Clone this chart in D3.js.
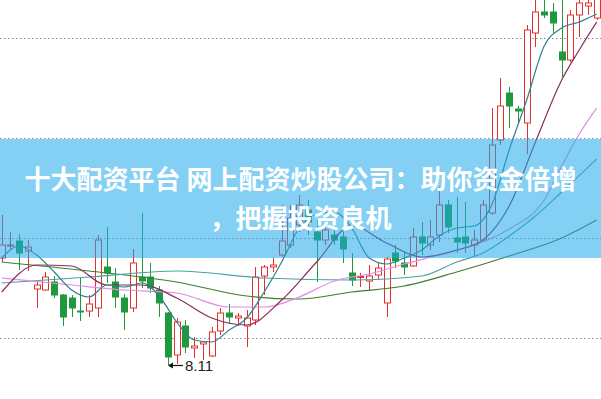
<!DOCTYPE html>
<html>
<head>
<meta charset="utf-8">
<script src="https://cdn.jsdelivr.net/npm/d3@7/dist/d3.min.js"></script>
<style>
  body{margin:0;background:#fff;}
  svg{display:block;}
</style>
</head>
<body>
<svg id="chart" width="601" height="399"></svg>
<script>
// daily candles
const opens  = [9.18,9.30,9.35,9.25,8.87,8.86,8.94,8.81,8.78,8.65,8.65,8.68,9.09,8.94,8.78,8.68,8.99,8.99,8.86,8.63,8.21,8.50,8.28,8.32,8.20,8.45,8.63,8.58,8.50,8.56,9.00,9.09,9.21,9.31,9.51,9.66,9.44,9.36,9.41,9.39,9.03,8.985,8.95,9.01,8.73,9.23,9.13,9.10,9.39,9.31,9.41,9.71,9.38,9.39,9.31,9.36,9.63,10.36,10.83,10.67,10.53,11.43,11.64,11.64,11.24,11.16,11.61,11.70,11.58];
const highs  = [9.61,9.44,9.42,9.36,8.94,9.04,9.00,8.82,8.81,8.99,8.81,9.41,9.49,9.08,8.82,9.27,9.63,9.13,8.90,8.64,8.58,8.56,8.39,8.35,8.49,8.68,8.72,8.63,8.66,9.09,9.11,9.18,9.71,9.71,9.81,9.76,9.56,9.51,9.48,9.46,9.23,9.03,9.11,9.14,9.19,9.31,9.24,9.48,9.54,9.56,9.89,9.76,9.79,9.74,9.46,9.76,10.68,10.98,10.89,10.70,11.51,11.81,11.78,11.73,11.86,11.66,11.79,11.79,11.84];
const lows   = [9.14,9.26,9.06,9.05,8.68,8.85,8.78,8.50,8.59,8.55,8.59,8.59,8.93,8.68,8.46,8.64,8.88,8.83,8.59,8.11,8.12,8.23,8.18,8.16,8.19,8.41,8.52,8.50,8.29,8.51,8.81,9.04,9.19,9.28,9.44,9.41,8.94,9.31,9.31,9.13,8.90,8.89,8.86,8.96,8.59,9.08,9.01,9.09,9.21,9.26,9.34,9.43,9.23,9.23,9.19,9.35,9.61,10.31,10.48,10.53,10.22,11.29,11.58,11.43,10.99,11.14,11.39,11.61,11.56];
const closes = [9.31,9.31,9.23,9.29,8.91,8.99,8.81,8.59,8.68,8.64,8.72,9.36,9.03,8.79,8.64,9.13,8.95,8.88,8.73,8.19,8.54,8.29,8.30,8.34,8.44,8.63,8.59,8.60,8.58,8.99,9.09,9.11,9.35,9.58,9.71,9.54,9.36,9.46,9.36,9.27,8.96,8.995,9.00,9.08,9.17,9.15,9.09,9.39,9.33,9.39,9.71,9.49,9.34,9.33,9.36,9.71,10.31,10.70,10.70,10.65,11.46,11.64,11.61,11.53,11.16,11.61,11.73,11.73,11.81];

// moving average lines: [candle index, price]
const ma5  = [[0,9.18],[2,9.30],[4,9.21],[6,9.04],[8,8.86],[10,8.79],[12,8.91],[14,8.89],[16,8.93],[18,8.80],[20,8.54],[22,8.36],[24,8.34],[26,8.46],[28,8.58],[30,8.84],[32,9.14],[34,9.48],[36,9.62],[38,9.64],[40,9.48],[42,9.18],[44,9.12],[46,9.18],[48,9.26],[50,9.40],[52,9.48],[54,9.50],[56,9.71],[58,10.26],[60,10.76],[62,11.30],[64,11.48],[66,11.54],[68,11.62]];
const ma10 = [[0,8.84],[4,9.11],[8,9.10],[12,8.91],[16,8.91],[20,8.78],[24,8.58],[28,8.51],[32,8.76],[36,9.14],[40,9.50],[44,9.33],[48,9.19],[52,9.26],[55,9.36],[58,9.70],[61,10.34],[64,10.96],[66,11.26],[68,11.54]];
const ma20 = [[0,8.98],[8,8.91],[14,8.86],[20,8.83],[26,8.69],[30,8.69],[34,8.79],[38,8.95],[42,9.02],[46,9.12],[50,9.21],[53,9.28],[58,9.47],[62,9.76],[64,10.10],[66,10.42],[68,10.68]];
const ma30 = [[0,8.93],[10,8.99],[20,9.05],[30,8.98],[40,8.96],[48,9.00],[52,9.14],[55,9.23],[58,9.40],[61,9.60],[64,9.84],[68,10.17]];
const ma60 = [[0,9.14],[10,9.05],[20,8.94],[28,8.80],[34,8.77],[40,8.84],[46,8.90],[52,9.04],[58,9.20],[64,9.38],[68,9.56]];

const gridPrices = [11.38, 10.38, 9.38, 8.38];
const lowIndex = 19, lowLabel = '8.11';
const titleLines = ['十大配资平台 网上配资炒股公司：助你资金倍增', '，把握投资良机'];

const W = 601, H = 399;
const svg = d3.select('#chart');
const x = d3.scaleLinear().domain([0, 68]).range([1.7, 596.7]);
const y = d3.scaleLinear().domain([7.77, 11.76]).range([H, 0]);
const bodyW = 6;

const candles = closes.map((c,i)=>({i, o:opens[i], h:highs[i], l:lows[i], c, up:c>=opens[i]}));
const RED = '#e4302c', GREEN = '#1e9a3c';

// dotted grid
svg.append('g').selectAll('line').data(gridPrices).enter().append('line')
  .attr('x1',0).attr('x2',W)
  .attr('y1',d=>Math.round(y(d))+0.5).attr('y2',d=>Math.round(y(d))+0.5)
  .attr('stroke','#8a8a8a').attr('stroke-width',1).attr('stroke-dasharray','1.5,2.5');

// candles
const cg = svg.append('g');
cg.selectAll('line.wick').data(candles).enter().append('line').attr('class','wick')
  .attr('x1',d=>Math.round(x(d.i))+0.5).attr('x2',d=>Math.round(x(d.i))+0.5)
  .attr('y1',d=>y(d.h)).attr('y2',d=>y(d.l))
  .attr('stroke',d=>d.up?RED:GREEN).attr('stroke-width',1);
cg.selectAll('rect.body').data(candles).enter().append('rect').attr('class','body')
  .attr('x',d=>Math.round(x(d.i))-bodyW/2+0.5)
  .attr('y',d=>y(Math.max(d.o,d.c)))
  .attr('width',bodyW)
  .attr('height',d=>Math.max(1,Math.abs(y(d.o)-y(d.c))))
  .attr('fill',d=>d.up?'#fff':GREEN)
  .attr('stroke',d=>d.up?RED:GREEN).attr('stroke-width',1);

// moving averages
const line = d3.line().x(d=>x(d[0])).y(d=>y(d[1])).curve(d3.curveMonotoneX);
const maSeries = [
  {data:ma60, color:'#3f7d2e'},
  {data:ma30, color:'#47a3a3'},
  {data:ma20, color:'#e38ce3'},
  {data:ma10, color:'#8c2d5c'},
  {data:ma5,  color:'#2f7f8c'}
];
svg.append('g').selectAll('path').data(maSeries).enter().append('path')
  .attr('d',d=>line(d.data)).attr('fill','none')
  .attr('stroke',d=>d.color).attr('stroke-width',1.2);

// low marker
const lx = x(lowIndex), ly = y(lows[lowIndex]);
svg.append('line').attr('x1',lx+1).attr('x2',lx+15).attr('y1',ly+0.5).attr('y2',ly+0.5)
  .attr('stroke','#111').attr('stroke-width',1.2);
svg.append('path').attr('d',`M${lx},${ly+0.5}l5,-3l0,6z`).attr('fill','#111');
svg.append('text').attr('x',lx+17).attr('y',ly+6).text(lowLabel)
  .attr('font-family','"Liberation Sans", Arial, sans-serif').attr('font-size',15).attr('fill','#222');

// banner overlay, title on two lines
svg.append('rect').attr('x',0).attr('y',139).attr('width',W).attr('height',119)
  .attr('fill','rgb(30,170,235)').attr('fill-opacity',0.55);
svg.append('g').selectAll('text').data(titleLines).enter().append('text')
  .attr('x',W/2).attr('y',(d,k)=>189+k*38.5)
  .attr('text-anchor','middle')
  .attr('font-family','"Noto Sans CJK SC", sans-serif').attr('font-weight',700)
  .attr('font-size',26).attr('fill','#fff')
  .text(d=>d);
</script>
</body>
</html>
